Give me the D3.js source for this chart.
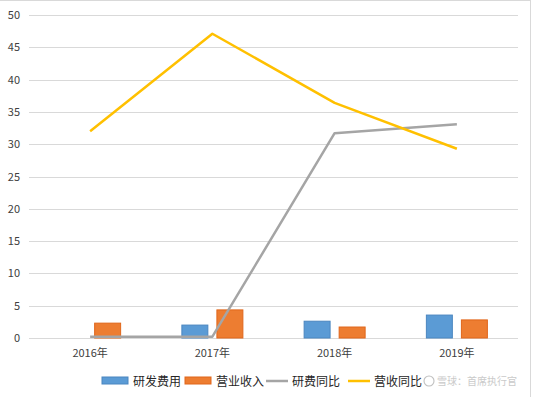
<!DOCTYPE html>
<html>
<head>
<meta charset="utf-8">
<script src="https://cdn.jsdelivr.net/npm/d3@7"></script>
<style>
  html, body { margin: 0; padding: 0; background: #fff; }
  svg { display: block; }
</style>
</head>
<body>
<script>
const categories = ["2016年", "2017年", "2018年", "2019年"];
const barSeries = ["研发费用", "营业收入"];
const rdExpense = [0, 2.0, 2.6, 3.55];
const revenue = [2.3, 4.35, 1.7, 2.8];
const rdGrowth = [0.2, 0.2, 31.7, 33.1];
const revGrowth = [32.0, 47.1, 36.4, 29.3];
const yTicks = [0, 5, 10, 15, 20, 25, 30, 35, 40, 45, 50];
const legendLabels = ["研发费用", "营业收入", "研费同比", "营收同比"];
const watermark = "雪球：首席执行官";

const W = 533, H = 397;
const colors = { blue: "#5B9BD5", orange: "#ED7D31", gray: "#A5A5A5", yellow: "#FFC000" };
const font = "'Noto Sans CJK SC', 'Microsoft YaHei', sans-serif";

const svg = d3.select("body").append("svg").attr("width", W).attr("height", H);

// frame
svg.append("line").attr("x1", 0).attr("x2", 531).attr("y1", 0.5).attr("y2", 0.5).attr("stroke", "#d9d9d9");
svg.append("line").attr("x1", 530.5).attr("x2", 530.5).attr("y1", 0).attr("y2", H).attr("stroke", "#d9d9d9");

const plot = { left: 29, right: 518, top: 15, bottom: 338 };
const y = d3.scaleLinear().domain([0, 50]).range([plot.bottom, plot.top]);
const x0 = d3.scaleBand().domain(categories).range([plot.left, plot.right]);
const bw = x0.bandwidth();
const x1 = d3.scaleBand().domain(barSeries).range([bw / 2 - 31, bw / 2 + 31]).paddingInner(0.23);

// gridlines
svg.append("g").selectAll("line").data(yTicks).join("line")
  .attr("x1", plot.left).attr("x2", plot.right)
  .attr("y1", d => Math.round(y(d)) + 0.5).attr("y2", d => Math.round(y(d)) + 0.5)
  .attr("stroke", "#d9d9d9").attr("stroke-width", 1);

// y labels
svg.append("g").selectAll("text").data(yTicks).join("text")
  .attr("x", 20).attr("y", d => y(d) + 4)
  .attr("text-anchor", "end")
  .attr("font-family", font).attr("font-size", 11).attr("fill", "#404040")
  .text(d => d);

// x labels
svg.append("g").selectAll("text").data(categories).join("text")
  .attr("x", d => x0(d) + bw / 2).attr("y", 357)
  .attr("text-anchor", "middle")
  .attr("font-family", font).attr("font-size", 11).attr("fill", "#404040")
  .text(d => d);

// bars
const barData = [
  { key: barSeries[0], values: rdExpense, fill: colors.blue, stroke: "#4a86c0" },
  { key: barSeries[1], values: revenue, fill: colors.orange, stroke: "#e0661a" }
];
barData.forEach(s => {
  svg.append("g").selectAll("rect").data(categories.map((c, i) => ({ c, v: s.values[i] })).filter(d => d.v > 0))
    .join("rect")
    .attr("x", d => x0(d.c) + x1(s.key) + 0.5)
    .attr("y", d => y(d.v))
    .attr("width", x1.bandwidth() - 1)
    .attr("height", d => y(0) - y(d.v))
    .attr("fill", s.fill).attr("stroke", s.stroke).attr("stroke-width", 1);
});

// lines
const line = d3.line().x((d, i) => x0(categories[i]) + bw / 2).y(d => y(d));
svg.append("path").datum(rdGrowth).attr("d", line)
  .attr("fill", "none").attr("stroke", colors.gray).attr("stroke-width", 2.5).attr("stroke-linejoin", "round");
svg.append("path").datum(revGrowth).attr("d", line)
  .attr("fill", "none").attr("stroke", colors.yellow).attr("stroke-width", 2.5).attr("stroke-linejoin", "round");

// legend
const lg = svg.append("g").attr("font-family", font).attr("font-size", 12).attr("fill", "#262626");
const legendItems = [
  { label: legendLabels[0], type: "rect", color: colors.blue, stroke: "#4a86c0", x: 102 },
  { label: legendLabels[1], type: "rect", color: colors.orange, stroke: "#e0661a", x: 185 },
  { label: legendLabels[2], type: "line", color: colors.gray, x: 266 },
  { label: legendLabels[3], type: "line", color: colors.yellow, x: 348 }
];
const ly = 381;
legendItems.forEach(it => {
  if (it.type === "rect") {
    lg.append("rect").attr("x", it.x).attr("y", ly - 4).attr("width", 26).attr("height", 7)
      .attr("fill", it.color).attr("stroke", it.stroke);
  } else {
    lg.append("line").attr("x1", it.x).attr("x2", it.x + 22).attr("y1", ly).attr("y2", ly)
      .attr("stroke", it.color).attr("stroke-width", 2.5);
  }
  lg.append("text").attr("x", it.x + (it.type === "rect" ? 31 : 26)).attr("y", ly + 4.5).text(it.label);
});

// watermark
const wm = svg.append("g").attr("opacity", 0.8);
wm.append("circle").attr("cx", 429).attr("cy", 381).attr("r", 5)
  .attr("fill", "none").attr("stroke", "#b0b0b0").attr("stroke-width", 1.1);
wm.append("text").attr("x", 437).attr("y", 385)
  .attr("font-family", font).attr("font-size", 10).attr("fill", "#bdbdbd")
  .text(watermark);
</script>
</body>
</html>
